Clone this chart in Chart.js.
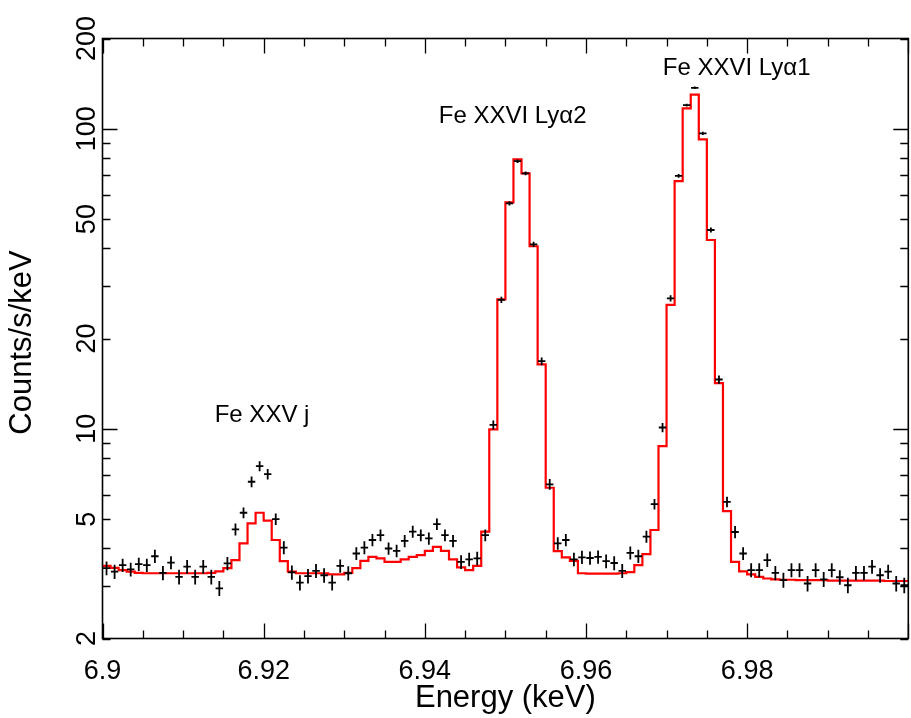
<!DOCTYPE html>
<html><head><meta charset="utf-8">
<script src="https://cdn.jsdelivr.net/npm/chart.js@4.4.1/dist/chart.umd.min.js"></script>
<style>html,body{margin:0;padding:0;background:#fff;} #wrap{width:911px;height:718px;position:relative;}</style>
</head><body><div id="wrap"><canvas id="c" width="911" height="718"></canvas></div>
<script>
// bin centre energies (keV)
const energies = [
 6.9005,6.9015,6.9025,6.9035,6.9045,6.9055,6.9065,6.9075,6.9085,6.9095,
 6.9105,6.9115,6.9125,6.9135,6.9145,6.9155,6.9165,6.9175,6.9185,6.9195,
 6.9205,6.9215,6.9225,6.9235,6.9245,6.9255,6.9265,6.9275,6.9285,6.9295,
 6.9305,6.9315,6.9325,6.9335,6.9345,6.9355,6.9365,6.9375,6.9385,6.9395,
 6.9405,6.9415,6.9425,6.9435,6.9445,6.9455,6.9465,6.9475,6.9485,6.9495,
 6.9505,6.9515,6.9525,6.9535,6.9545,6.9555,6.9565,6.9575,6.9585,6.9595,
 6.9605,6.9615,6.9625,6.9635,6.9645,6.9655,6.9665,6.9675,6.9685,6.9695,
 6.9705,6.9715,6.9725,6.9735,6.9745,6.9755,6.9765,6.9775,6.9785,6.9795,
 6.9805,6.9815,6.9825,6.9835,6.9845,6.9855,6.9865,6.9875,6.9885,6.9895,
 6.9905,6.9915,6.9925,6.9935,6.9945,6.9955,6.9965,6.9975,6.9985,6.9995];
// observed count rate (counts/s/keV)
const counts = [
 3.43,3.34,3.51,3.40,3.54,3.51,3.76,3.31,3.58,3.21,
 3.47,3.21,3.47,3.21,2.94,3.56,4.62,5.25,6.66,7.51,
 7.06,5.00,4.02,3.32,3.07,3.23,3.36,3.25,3.07,3.49,
 3.30,3.84,4.02,4.26,4.42,3.99,3.92,4.23,4.54,4.42,
 4.31,4.81,4.42,4.23,3.60,3.67,3.70,4.42,10.3,26.9,
 56.4,78.0,71.0,41.2,16.8,6.53,4.15,4.26,3.67,3.73,
 3.71,3.74,3.62,3.57,3.36,3.86,3.76,4.37,5.61,10.1,
 27.2,69.7,120,137,96.6,46.0,14.6,5.71,4.53,3.84,
 3.38,3.38,3.65,3.31,3.13,3.38,3.38,3.05,3.38,3.15,
 3.38,3.20,3.01,3.31,3.31,3.47,3.25,3.34,3.05,3.01];
// 1-sigma errors on the count rate
const countErrors = [
 0.18,0.18,0.18,0.18,0.18,0.18,0.19,0.18,0.18,0.18,
 0.18,0.18,0.18,0.18,0.17,0.18,0.21,0.22,0.27,0.29,
 0.28,0.22,0.20,0.18,0.18,0.18,0.18,0.18,0.18,0.18,
 0.18,0.19,0.20,0.20,0.20,0.19,0.19,0.20,0.21,0.20,
 0.20,0.21,0.20,0.20,0.19,0.19,0.19,0.20,0.36,0.65,
 0.90,1.05,1.00,0.80,0.50,0.27,0.20,0.20,0.19,0.19,
 0.19,0.19,0.19,0.19,0.18,0.19,0.19,0.20,0.23,0.36,
 0.65,1.00,1.25,1.35,1.15,0.85,0.46,0.23,0.21,0.19,
 0.18,0.18,0.19,0.18,0.18,0.18,0.18,0.18,0.18,0.18,
 0.18,0.18,0.18,0.18,0.18,0.18,0.18,0.18,0.18,0.18];
// folded model (counts/s/keV)
const model = [
 3.49,3.44,3.38,3.34,3.31,3.30,3.30,3.30,3.30,3.30,
 3.30,3.30,3.30,3.31,3.35,3.43,3.65,4.15,4.84,5.25,
 4.94,4.26,3.62,3.34,3.30,3.30,3.30,3.30,3.27,3.27,
 3.31,3.43,3.63,3.74,3.70,3.60,3.60,3.67,3.74,3.79,
 3.92,4.04,3.92,3.67,3.45,3.38,3.49,4.54,9.95,27.0,
 56.9,79.1,71.0,40.6,16.4,6.36,3.91,3.73,3.63,3.30,
 3.29,3.29,3.29,3.29,3.30,3.33,3.51,3.82,4.60,8.76,
 25.9,66.9,117,130,92.2,42.6,14.2,5.32,3.60,3.35,
 3.27,3.21,3.17,3.15,3.14,3.14,3.13,3.13,3.13,3.13,
 3.12,3.12,3.12,3.12,3.12,3.12,3.12,3.11,3.11,3.11];
const xTickValues = [6.90, 6.92, 6.94, 6.96, 6.98];
const xTickLabels = ['6.9', '6.92', '6.94', '6.96', '6.98'];
const yTickValues = [2, 5, 10, 20, 50, 100, 200];
const yTickLabels = ['2', '5', '10', '20', '50', '100', '200'];
const lineNames = ['Fe XXV j', 'Fe XXVI Lyα2', 'Fe XXVI Lyα1'];
const lineNameEnergy = [6.9198, 6.9509, 6.9787];
const lineNameLevel = [11.1, 110, 159];
const xTitle = 'Energy (keV)';
const yTitle = 'Counts/s/keV';

const FONT = '"Liberation Sans", Arial, Helvetica, sans-serif';
const X_MIN = 6.9, X_MAX = 7.0, Y_MIN = 2, Y_MAX = 200;

const halfBin = (energies[1] - energies[0]) / 2;
const modelPts = energies.map((e, i) => ({x: e, y: model[i]}));
modelPts.unshift({x: X_MIN, y: model[0]});
modelPts.push({x: X_MAX, y: model[model.length - 1]});
const dataPts = energies.map((e, i) => ({x: e, y: counts[i]}));

const framePlugin = {
  id: 'frame',
  afterDatasetsDraw(chart) {
    const {ctx, chartArea: a, scales: {x, y}} = chart;
    ctx.save();
    ctx.beginPath();
    ctx.rect(a.left, a.top, a.right - a.left, a.bottom - a.top);
    ctx.clip();
    // error-bar crosses
    ctx.strokeStyle = '#000';
    ctx.lineWidth = 1.8;
    ctx.beginPath();
    for (let i = 0; i < energies.length; i++) {
      const px = x.getPixelForValue(energies[i]);
      const py = y.getPixelForValue(counts[i]);
      const x0 = x.getPixelForValue(energies[i] - halfBin);
      const x1 = x.getPixelForValue(energies[i] + halfBin);
      const y0 = y.getPixelForValue(counts[i] - countErrors[i]);
      const y1 = y.getPixelForValue(counts[i] + countErrors[i]);
      ctx.moveTo(x0 + 0.3, py); ctx.lineTo(x1 - 0.3, py);
      ctx.moveTo(px, y0); ctx.lineTo(px, y1);
    }
    ctx.stroke();
    ctx.restore();
  },
  afterDraw(chart) {
    const {ctx, chartArea: a, scales: {x, y}} = chart;
    ctx.save();
    ctx.strokeStyle = '#000';
    ctx.lineWidth = 1.6;
    ctx.strokeRect(a.left, a.top, a.right - a.left, a.bottom - a.top);
    ctx.lineWidth = 1.3;
    ctx.beginPath();
    // x ticks: major every 0.02, minor every 0.005
    for (let k = 0; k <= 20; k++) {
      const v = X_MIN + k * 0.005;
      const major = (k % 4 === 0);
      const len = major ? 15 : 8;
      const p = Math.round(x.getPixelForValue(v)) + 0.5;
      ctx.moveTo(p, a.bottom); ctx.lineTo(p, a.bottom - len);
      ctx.moveTo(p, a.top); ctx.lineTo(p, a.top + len);
    }
    // y ticks (log)
    for (let dec = 1; dec <= 100; dec *= 10) {
      for (let m = 1; m <= 9; m++) {
        const v = m * dec;
        if (v < Y_MIN - 1e-9 || v > Y_MAX + 1e-9) continue;
        const len = (m === 1) ? 15 : 8;
        const p = Math.round(y.getPixelForValue(v)) + 0.5;
        ctx.moveTo(a.left, p); ctx.lineTo(a.left + len, p);
        ctx.moveTo(a.right, p); ctx.lineTo(a.right - len, p);
      }
    }
    ctx.stroke();
    ctx.fillStyle = '#000';
    // y tick labels (rotated, as in reference)
    ctx.font = '27px ' + FONT;
    ctx.textAlign = 'center';
    ctx.textBaseline = 'middle';
    yTickValues.forEach((v, i) => {
      ctx.save();
      ctx.translate(a.left - 15, y.getPixelForValue(v));
      ctx.rotate(-Math.PI / 2);
      ctx.fillText(yTickLabels[i], 0, 0);
      ctx.restore();
    });
    // axis titles
    ctx.font = '31px ' + FONT;
    ctx.save();
    ctx.translate(22, (a.top + a.bottom) / 2 + 4);
    ctx.rotate(-Math.PI / 2);
    ctx.fillText(yTitle, 0, 0);
    ctx.restore();
    ctx.fillText(xTitle, (a.left + a.right) / 2, 698);
    // line identifications
    ctx.font = '24px ' + FONT;
    lineNames.forEach((t, i) => {
      ctx.fillText(t, x.getPixelForValue(lineNameEnergy[i]), y.getPixelForValue(lineNameLevel[i]));
    });
    ctx.restore();
  }
};

new Chart(document.getElementById('c'), {
  data: {
    datasets: [
      {type: 'line', label: 'model', data: modelPts, stepped: 'middle',
       borderColor: '#ff0000', borderWidth: 2.2, pointRadius: 0, fill: false, order: 2},
      {type: 'scatter', label: 'data', data: dataPts, pointRadius: 0, showLine: false, order: 1}
    ]
  },
  options: {
    responsive: false,
    animation: false,
    devicePixelRatio: 1,
    layout: {padding: {left: 0, right: 2.7, top: 38.5, bottom: 0}},
    plugins: {legend: {display: false}, tooltip: {enabled: false}},
    scales: {
      x: {
        type: 'linear', min: X_MIN, max: X_MAX,
        afterBuildTicks: s => { s.ticks = xTickValues.map(v => ({value: v})); },
        afterFit: s => { s.height = 718 - 638.5; },
        grid: {display: false}, border: {display: false},
        ticks: {
          autoSkip: false, maxRotation: 0, minRotation: 0, padding: 9,
          color: '#000', font: {family: FONT, size: 27},
          callback: (v) => {
            const i = xTickValues.findIndex(t => Math.abs(t - v) < 1e-9);
            return i >= 0 ? xTickLabels[i] : '';
          }
        }
      },
      y: {
        type: 'logarithmic', min: Y_MIN, max: Y_MAX,
        afterBuildTicks: s => { s.ticks = yTickValues.map(v => ({value: v})); },
        afterFit: s => { s.width = 102.5; },
        grid: {display: false}, border: {display: false},
        ticks: {display: false}
      }
    }
  },
  plugins: [framePlugin]
});
</script>
</body></html>
